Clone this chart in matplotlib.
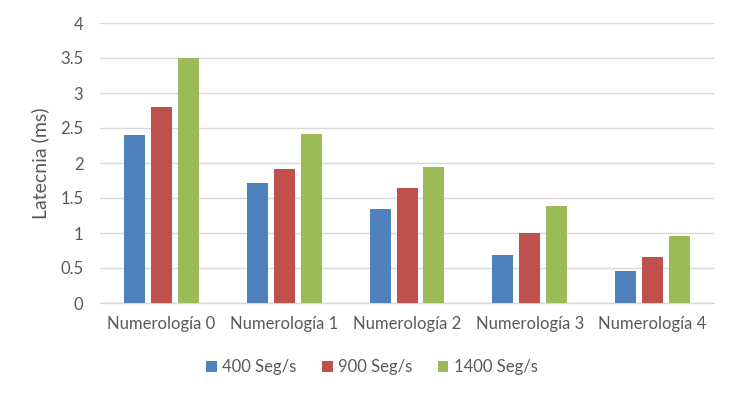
import matplotlib
matplotlib.use("Agg")
import matplotlib.pyplot as plt
import numpy as np

categories = ["Numerología 0", "Numerología 1", "Numerología 2", "Numerología 3", "Numerología 4"]
series_names = ["400 Seg/s", "900 Seg/s", "1400 Seg/s"]
s400 = [2.40, 1.72, 1.35, 0.69, 0.46]
s900 = [2.80, 1.92, 1.65, 1.00, 0.66]
s1400 = [3.50, 2.42, 1.95, 1.39, 0.96]
colors = ["#4F81BD", "#C0504D", "#9BBB59"]

plt.rcParams['font.family'] = ['Lato', 'DejaVu Sans']
txt = "#595959"

fig = plt.figure(figsize=(7.38, 4.0), dpi=100)
ax = fig.add_axes([100/738, 1-303/400, 614/738, 280/400])

x = np.arange(len(categories))
w = 21/122.8
step = 27/122.8
for i, (vals, name) in enumerate(zip([s400, s900, s1400], series_names)):
    ax.bar(x + (i-1)*step, vals, width=w, color=colors[i], label=name, zorder=3)

ax.set_xlim(-0.5, len(categories)-0.5)
ax.set_ylim(0, 4)
ax.set_yticks(np.arange(0, 4.01, 0.5))
ax.set_yticklabels(["0", "0.5", "1", "1.5", "2", "2.5", "3", "3.5", "4"])
ax.set_xticks(x)
ax.set_xticklabels(categories)
ax.yaxis.grid(True, color="#D9D9D9", linewidth=1, zorder=0)
for s in ["top", "right", "left"]:
    ax.spines[s].set_visible(False)
ax.spines["bottom"].set_color("#D9D9D9")
ax.spines["bottom"].set_linewidth(1)
ax.tick_params(axis="both", length=0, labelsize=12, colors=txt)
ax.tick_params(axis="y", pad=12)
ax.tick_params(axis="x", pad=9)
ax.set_ylabel("Latecnia (ms)", fontsize=14, color=txt, labelpad=8)

fig.legend(loc="center", bbox_to_anchor=(372/738, 1-367/400), ncol=3, frameon=False,
           fontsize=12, handlelength=0.65, handleheight=0.65, columnspacing=1.5,
           handletextpad=0.35, labelcolor=txt)

fig.savefig("out.png", dpi=100)
